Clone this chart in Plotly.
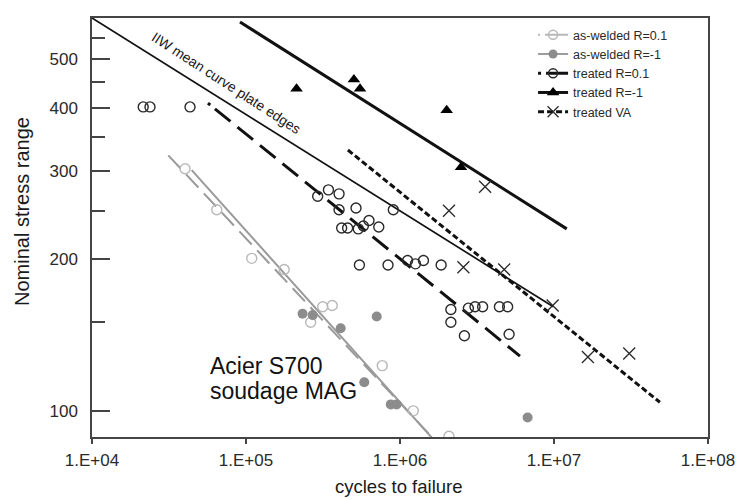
import plotly.graph_objects as go

# ---------------- data ----------------
# as-welded R=0.1 (open light-grey circles)
aw01_N = [4.02e4, 6.46e4, 1.09e5, 1.77e5, 2.63e5, 3.15e5, 3.63e5, 7.67e5, 1.22e6, 2.08e6]
aw01_S = [303, 251, 201, 191, 150, 161, 162, 123, 100, 89]

# as-welded R=-1 (filled grey circles)
awm1_N = [2.33e5, 2.71e5, 4.12e5, 7.06e5, 5.86e5, 8.71e5, 9.5e5, 6.74e6]
awm1_S = [156, 155, 146, 154, 114, 103, 103, 97]

# treated R=0.1 (open dark circles)
tr01_N = [2.15e4, 2.38e4, 4.33e4, 2.92e5, 3.43e5, 4.02e5, 4.02e5, 5.18e5, 9.05e5,
          4.18e5, 4.57e5, 5.36e5, 5.78e5, 6.29e5, 7.28e5, 5.45e5, 8.36e5, 1.12e6,
          1.26e6, 1.42e6, 1.85e6, 2.14e6, 2.14e6, 2.62e6, 2.78e6, 3.07e6, 3.44e6,
          4.42e6, 5.0e6, 5.11e6]
tr01_S = [402, 402, 402, 267, 275, 270, 251, 253, 251,
          231, 231, 230, 233, 239, 232, 195, 195, 199,
          196, 199, 195, 159, 150, 141, 160, 161, 161,
          161, 161, 142]

# treated R=-1 (filled triangles)
trm1_N = [2.13e5, 5.02e5, 5.5e5, 2.01e6, 2.49e6]
trm1_S = [437, 456, 437, 396, 305]

# treated VA (crosses)
trva_N = [2.08e6, 3.57e6, 2.58e6, 4.75e6, 9.8e6, 1.66e7, 3.08e7]
trva_S = [250, 279, 193, 191, 162, 128, 130]

# fitted S-N lines (end points)
iiw_N = [1e4, 9.9e6]
iiw_S = [604, 161]
fit_trm1_N = [9.14e4, 1.21e7]
fit_trm1_S = [593, 230]
fit_tr01_N = [5.66e4, 6.01e6]
fit_tr01_S = [409, 128.5]
fit_trva_N = [4.59e5, 4.87e7]
fit_trva_S = [330, 104]
fit_awm1_N = [4.44e4, 1.82e6]
fit_awm1_S = [301, 84.8]
fit_aw01_N = [3.13e4, 1.53e6]
fit_aw01_S = [322, 90.2]

x_tickvals = [1e4, 1e5, 1e6, 1e7, 1e8]
x_ticktext = ["1.E+04", "1.E+05", "1.E+06", "1.E+07", "1.E+08"]
y_tickvals = [100, 200, 300, 400, 500]
y_minorvals = [150, 250, 350, 450, 550]

FONT = "Liberation Sans, Arial, sans-serif"
C_AW01 = "#b8b8b8"
C_AWM1 = "#8c8c8c"
C_AWLINE = "#9a9a9a"
C_TR = "#2a2a2a"

fig = go.Figure()

# fit lines
fig.add_trace(go.Scatter(x=iiw_N, y=iiw_S, mode="lines",
                         line=dict(color="#111", width=1.7), showlegend=False))
fig.add_trace(go.Scatter(x=fit_trm1_N, y=fit_trm1_S, mode="lines",
                         line=dict(color="#111", width=3), showlegend=False))
fig.add_trace(go.Scatter(x=fit_tr01_N, y=fit_tr01_S, mode="lines",
                         line=dict(color="#111", width=3, dash="3px,6px,20px,9px,20px,9px,20px,9px,20px,9px,20px,9px,20px,9px,20px,9px,20px,9px,20px,9px,20px,9px,20px,9px,20px,9px,20px,9px,20px,9px,20px,9px,20px,9px,20px,9px"), showlegend=False))
fig.add_trace(go.Scatter(x=fit_trva_N, y=fit_trva_S, mode="lines",
                         line=dict(color="#111", width=3, dash="6px,3px"), showlegend=False))
fig.add_trace(go.Scatter(x=fit_awm1_N, y=fit_awm1_S, mode="lines",
                         line=dict(color=C_AWLINE, width=2), showlegend=False))
fig.add_trace(go.Scatter(x=fit_aw01_N, y=fit_aw01_S, mode="lines",
                         line=dict(color=C_AWLINE, width=2, dash="18px,8px"), showlegend=False))

# data points
fig.add_trace(go.Scatter(x=aw01_N, y=aw01_S, mode="markers", showlegend=False,
                         marker=dict(symbol="circle-open", size=10, color=C_AW01,
                                     line=dict(width=1.4, color=C_AW01))))
fig.add_trace(go.Scatter(x=awm1_N, y=awm1_S, mode="markers", showlegend=False,
                         marker=dict(symbol="circle", size=10, color=C_AWM1)))
fig.add_trace(go.Scatter(x=tr01_N, y=tr01_S, mode="markers", showlegend=False,
                         marker=dict(symbol="circle-open", size=10, color=C_TR,
                                     line=dict(width=1.4, color=C_TR))))
fig.add_trace(go.Scatter(x=trm1_N, y=trm1_S, mode="markers", showlegend=False,
                         marker=dict(symbol="triangle-up", size=11, color="#000")))
fig.add_trace(go.Scatter(x=trva_N, y=trva_S, mode="markers", showlegend=False,
                         marker=dict(symbol="x-thin-open", size=12, color=C_TR,
                                     line=dict(width=1.3, color=C_TR))))

# legend entries
legend_specs = [
    ("as-welded R=0.1", dict(color=C_AW01, width=2, dash="2px,5px,40px"), dict(symbol="circle-open", size=9, color=C_AW01, line=dict(width=1.4, color=C_AW01))),
    ("as-welded R=-1", dict(color=C_AWLINE, width=2), dict(symbol="circle", size=9, color=C_AWM1)),
    ("treated R=0.1", dict(color="#111", width=3, dash="3px,5px,40px"), dict(symbol="circle-open", size=9, color=C_TR, line=dict(width=1.4, color=C_TR))),
    ("treated R=-1", dict(color="#111", width=3), dict(symbol="triangle-up", size=11, color="#000")),
    ("treated VA", dict(color="#111", width=3, dash="6px,3px"), dict(symbol="x-thin-open", size=11, color=C_TR, line=dict(width=1.3, color=C_TR))),
]
for name, ln, mk in legend_specs:
    fig.add_trace(go.Scatter(x=[None], y=[None], mode="lines+markers", name=name,
                             line=ln, marker=mk, showlegend=True))

axis_common = dict(showline=True, linecolor="#444", linewidth=1.5, mirror=True,
                   showgrid=False, zeroline=False, automargin=False,
                   tickfont=dict(family=FONT, size=17, color="#2a2a2a"),
                   tickcolor="#444", tickwidth=1.5)

fig.update_xaxes(type="log", range=[4, 8], tickmode="array",
                 tickvals=x_tickvals, ticktext=x_ticktext,
                 ticks="outside", ticklen=5, ticklabelstandoff=2, **axis_common)
fig.update_yaxes(type="log", range=[1.948, 2.781], tickmode="array",
                 tickvals=y_tickvals, ticktext=[str(v) for v in y_tickvals],
                 ticks="inside", ticklen=18, ticklabelstandoff=9,
                 minor=dict(tickmode="array", tickvals=y_minorvals, ticks="inside",
                            ticklen=13, tickcolor="#444", tickwidth=1.5),
                 **axis_common)

fig.update_layout(
    width=737, height=499,
    margin=dict(l=92, r=29, t=18, b=62),
    paper_bgcolor="white", plot_bgcolor="white",
    font=dict(family=FONT, color="#333"),
    legend=dict(x=0.716, y=0.995, xanchor="left", yanchor="top",
                bgcolor="rgba(0,0,0,0)", font=dict(family=FONT, size=12.5, color="#2a2a2a"),
                itemwidth=30, tracegroupgap=0),
    annotations=[
        dict(text="Nominal stress range", xref="paper", yref="paper",
             x=-0.1136, y=0.537, xanchor="center", yanchor="middle",
             textangle=-90, showarrow=False,
             font=dict(family=FONT, size=20, color="#1a1a1a")),
        dict(text="cycles to failure", xref="paper", yref="paper",
             x=0.499, y=-0.117, xanchor="center", yanchor="middle", showarrow=False,
             font=dict(family=FONT, size=18.5, color="#1a1a1a")),
        dict(text="IIW mean curve plate edges", xref="paper", yref="paper",
             x=0.218, y=0.8445, xanchor="center", yanchor="middle",
             textangle=33, showarrow=False,
             font=dict(family=FONT, size=14, color="#1a1a1a")),
        dict(text="Acier S700", xref="paper", yref="paper", x=0.188, y=0.1695,
             xanchor="left", yanchor="middle", showarrow=False,
             font=dict(family=FONT, size=23, color="#111")),
        dict(text="soudage MAG", xref="paper", yref="paper", x=0.188, y=0.1086,
             xanchor="left", yanchor="middle", showarrow=False,
             font=dict(family=FONT, size=23, color="#111")),
    ],
)

fig.write_html("out.html", config={"displayModeBar": False},
               post_script="document.body.style.margin='0px';")
